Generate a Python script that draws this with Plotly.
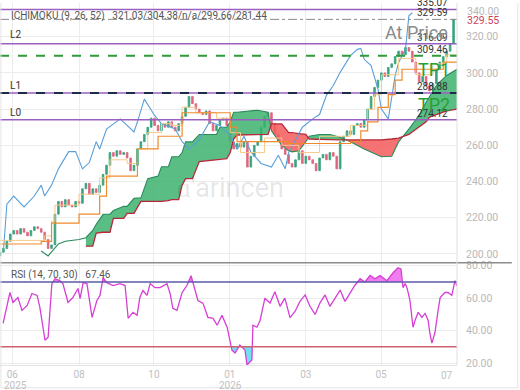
import plotly.graph_objects as go
from plotly.subplots import make_subplots

# ---------------- data (bar index = 2 trading days) ----------------
CLOSE = [201,203,207,211,213,211,214,212,210,213,
         215,214,212,208,203,205,222,229,226,230,
         227,226,229,228,236,239,233,236,234,238,
         244,249,256,254,257,255,256,253,246,249,
         258,262,266,270,275,271,268,272,270,273,
         270,268,272,276,281,287,283,280,278,277,
         279,272,268,271,274,275,271,262,258,261,
         259,262,248,254,260,262,270,276,278,272,
         266,262,258,255,250,248,252,257,250,254,
         252,250,246,253,255,252,256,254,247,262,
         265,268,266,271,272,270,274,280,287,292,
         296,300,298,303,305,309,312,310,314,312,
         306,300,295,298,293,290,294,302,306,309,
         312,316,329.55]
FIRST_OPEN = 199

TENKAN_X = [0,13,15,16,23,29,32,37,40,43,47,50,53,57,63,67,70,77,82,87,93,102,107,109,111,116,121,126,130,133]
TENKAN_Y = [207.5,210,218,227,233,242,252,250,258,267,272,271,281,278,275,267,256,264,260,256,265,271,280,288,299,308,299,305,310,310]

KIJUN_X = [0,12,15,23,29,31,40,46,53,67,69,84,102,105,107,110,113,115,117,129,133]
KIJUN_Y = [205.5,207,217,222,232,243,258,265,278,270,262,261,262,268,273,281,288,296,302,306,306]

CHIKOU_X = [1,2,4,7,10,12,13,15,17,20,22,24,26,28,29,31,35,37,39,40,42,45,47,51,53,55,58,61,64,67,69,71,73,76,79,81,83,84,86,88,91,93,95,97,99,102,104,105,106,108,110,111,113,114,115,116,118,119,120]
CHIKOU_Y = [201.6,227.5,232,226,232,238,232,238,247,256.5,256.5,247,250.5,262,258,269,274.6,271,267.4,273,285.5,276.5,272,269,262,258,263,273,271,265.5,258,265,256.4,250,248,254.5,247,256,263,270,274.6,277,287.6,293,300.3,309.5,313,313.5,307.5,304,291,280,274.6,287.6,298.5,305.7,313,331.5,333.2]

SPAN_A_EARLY_X = [12,14,17,19,23,25]
SPAN_A_EARLY_Y = [201.6,198.9,205.5,207,208,209]

CLOUD_X = [25,27,28,30,32,33,36,37,39,41,43,46,47,49,50,52,53,54,56,58,63,64,66,67,68,69,75,78,79,82,84,85,87,89,90,93,96,99,102,106,111,114,116,119,122,124,125,127,128,130,133]
SPAN_A = [209,213,216.4,221.9,222,224,226.3,226.3,230.7,231,241.6,243,248.2,248.2,253.7,253.7,256,261.9,261.9,266,266,270,270,273,278.3,278.3,279.4,278.3,268,260,257,256.4,257,262,265,266,266,264.5,262,258,253.7,254,261.9,269,276.7,283.8,287,293,295,298.6,302]
SPAN_B = [204.3,204.3,211.5,212,212,219.7,219.7,222.4,222.4,229,229,229,229,229.5,230,230,238,241.6,241.6,251,252,252.6,252.6,256,263.5,265.7,265.7,266,271.8,271.8,267,267,266.5,266,263.5,263.5,263.2,263,263,263,263,263.5,264,266,270,273,275.6,277,278,279,280]

RSI_X = [0.9,2.9,3.8,5.2,6.4,7.9,9.3,10.8,11.6,13.1,14.0,15.1,16.0,17.5,18.3,19.8,21.2,22.7,23.3,24.2,25.3,26.8,28.2,29.1,30.0,31.1,32.9,34.9,36.4,37.3,38.7,39.9,40.7,41.6,42.8,43.7,45.1,46.6,48.6,49.5,50.3,51.5,53.0,54.4,55.6,56.2,57.6,59.1,60.5,62.0,63.2,64.6,66.1,67.5,68.4,69.8,71.3,71.9,73.3,73.6,74.8,75.7,77.1,78.6,80.0,81.5,82.9,84.4,85.9,87.3,88.8,90.2,91.7,93.1,94.6,96.0,97.5,99.0,100.4,101.9,103.3,104.8,106.2,107.7,109.1,110.6,112.6,114.4,115.8,116.7,117.0,117.3,117.9,118.5,119.3,120.2,120.8,121.7,122.8,123.7,124.6,125.1,125.7,126.6,127.5,128.1,129.5,130.4,131.5,132.4,133.0]
RSI_Y = [44.5,63.5,57.4,60.4,52.5,55.5,62.9,61.7,54.3,34.1,36,69,72,70.8,69,57.4,60.4,66,59.8,69.6,69,48.2,58.6,61.7,72.7,69.6,67.8,69,67.8,47.6,51.3,49.4,60.4,64.7,61.7,69,66.5,66.5,69,62.9,53.7,52.5,63.5,67.8,73.9,69,58.6,56.8,48.2,47.6,43.3,49.4,42.1,28,26.2,31.1,28,18.8,21.9,43.3,42.1,46.4,60,57,64,55,60,48,52,58,62,55,50,57,62,55,60,65,58,63,68,72,70,74,72,73.9,70.8,75.7,78.8,78,69,66.5,69,66,58.6,42.1,46.4,51.3,48.2,50.6,46.4,38.4,32.3,39,52.5,60.4,63.5,63.5,61.7,70.8,67.46]

LEVELS_PURPLE = [335.07, 316.09, 288.88, 274.12]
LEVEL_TP1 = 309.46
LEVEL_L1 = 288.88
PRICE_LINE = 329.55
LEVEL_LABELS = [("335.07", 335.07), ("329.59", 329.55), ("316.09", 316.09),
                ("309.46", 309.46), ("288.88", 288.88), ("274.12", 274.12)]
X_TICKS = [3.6, 23, 44.8, 66.9, 89, 110.9]
X_TICKTEXT = ["06", "08", "10", "01", "03", "05"]

FONT = "Roboto"

# ---------------- helpers ----------------
OPEN = [FIRST_OPEN] + CLOSE[:-1]
HIGH = [max(o, c) for o, c in zip(OPEN, CLOSE)]
LOW = [min(o, c) for o, c in zip(OPEN, CLOSE)]
IDX = list(range(len(CLOSE)))


def split_cloud(xs, a, b):
    segs = []
    cur = {"x": [], "a": [], "b": [], "up": a[0] >= b[0]}
    for i in range(len(xs)):
        d = a[i] - b[i]
        if i > 0:
            dp = a[i - 1] - b[i - 1]
            if (dp >= 0) != (d >= 0):
                t = dp / (dp - d)
                xc = xs[i - 1] + t * (xs[i] - xs[i - 1])
                yc = a[i - 1] + t * (a[i] - a[i - 1])
                cur["x"].append(xc); cur["a"].append(yc); cur["b"].append(yc)
                segs.append(cur)
                cur = {"x": [xc], "a": [yc], "b": [yc], "up": d >= 0}
        cur["x"].append(xs[i]); cur["a"].append(a[i]); cur["b"].append(b[i])
    segs.append(cur)
    return segs


def band(xs, ys, level, above=True):
    ox, oy = [], []
    for i in range(len(xs)):
        if i > 0:
            d0 = ys[i - 1] - level
            d1 = ys[i] - level
            if (d0 > 0) != (d1 > 0) and d0 != d1:
                t = d0 / (d0 - d1)
                ox.append(xs[i - 1] + t * (xs[i] - xs[i - 1]))
                oy.append(level)
        ox.append(xs[i])
        oy.append(max(ys[i], level) if above else min(ys[i], level))
    return ox, oy


# ---------------- figure ----------------
fig = make_subplots(rows=2, cols=1, shared_xaxes=True, vertical_spacing=0,
                    row_heights=[0.7178, 0.2822])

# cloud
for s in split_cloud(CLOUD_X, SPAN_A, SPAN_B):
    fig.add_trace(go.Scatter(
        x=s["x"] + s["x"][::-1], y=s["a"] + s["b"][::-1], fill="toself",
        fillcolor="rgba(60,177,110,0.85)" if s["up"] else "rgba(244,90,90,0.85)",
        line=dict(width=0), mode="lines", hoverinfo="skip", showlegend=False), row=1, col=1)

fig.add_trace(go.Scatter(x=SPAN_A_EARLY_X + CLOUD_X, y=SPAN_A_EARLY_Y + SPAN_A, mode="lines",
                         line=dict(color="#2a8a5c", width=1.1), showlegend=False), row=1, col=1)
fig.add_trace(go.Scatter(x=CLOUD_X, y=SPAN_B, mode="lines",
                         line=dict(color="#b8283a", width=1.3), showlegend=False), row=1, col=1)

# chikou, tenkan, kijun
fig.add_trace(go.Scatter(x=CHIKOU_X, y=CHIKOU_Y, mode="lines",
                         line=dict(color="#5a9fd8", width=1.1), showlegend=False), row=1, col=1)
fig.add_trace(go.Scatter(x=TENKAN_X, y=TENKAN_Y, mode="lines", line_shape="hv",
                         line=dict(color="#f7c98a", width=1), showlegend=False), row=1, col=1)
fig.add_trace(go.Scatter(x=KIJUN_X, y=KIJUN_Y, mode="lines", line_shape="hv",
                         line=dict(color="#ef8a2c", width=1.2), showlegend=False), row=1, col=1)

# candles
fig.add_trace(go.Candlestick(
    x=IDX, open=OPEN, high=HIGH, low=LOW, close=CLOSE,
    increasing=dict(line=dict(color="#3aa37e", width=0.8), fillcolor="#3aa37e"),
    decreasing=dict(line=dict(color="#e0657f", width=0.8), fillcolor="#e0657f"),
    whiskerwidth=0, showlegend=False), row=1, col=1)

# RSI fills
bx, by = band(RSI_X, RSI_Y, 70, above=True)
fig.add_trace(go.Scatter(x=bx, y=[70] * len(bx), mode="lines", line=dict(width=0),
                         hoverinfo="skip", showlegend=False), row=2, col=1)
fig.add_trace(go.Scatter(x=bx, y=by, mode="lines", line=dict(width=0), fill="tonexty",
                         fillcolor="rgba(238,110,238,0.9)", hoverinfo="skip", showlegend=False), row=2, col=1)
cx, cy = band(RSI_X, RSI_Y, 30, above=False)
fig.add_trace(go.Scatter(x=cx, y=[30] * len(cx), mode="lines", line=dict(width=0),
                         hoverinfo="skip", showlegend=False), row=2, col=1)
fig.add_trace(go.Scatter(x=cx, y=cy, mode="lines", line=dict(width=0), fill="tonexty",
                         fillcolor="rgba(110,220,240,0.95)", hoverinfo="skip", showlegend=False), row=2, col=1)
fig.add_trace(go.Scatter(x=RSI_X, y=RSI_Y, mode="lines",
                         line=dict(color="#d63fd6", width=1.3), showlegend=False), row=2, col=1)

ann = []
for txt, lv in LEVEL_LABELS:
    ann.append(dict(text=txt, x=0.985, xref="paper", xanchor="right", y=lv, yref="y",
                    yanchor="bottom", yshift=-1, showarrow=False,
                    font=dict(size=10, color="#333", family=FONT)))
ann += [
    dict(text="At Price", x=0.985, xref="paper", xanchor="right", y=322.2, yref="y",
         showarrow=False, font=dict(size=18, color="#8a8a8a", family=FONT)),
    dict(text="TP1", x=0.988, xref="paper", xanchor="right", y=301.9, yref="y",
         showarrow=False, font=dict(size=18, color="#27a033", family=FONT)),
    dict(text="TP2", x=0.988, xref="paper", xanchor="right", y=282.7, yref="y",
         showarrow=False, font=dict(size=18, color="#27a033", family=FONT)),
    dict(text="L2", x=0.018, xref="paper", xanchor="left", y=321.1, yref="y",
         showarrow=False, font=dict(size=10, color="#333", family=FONT)),
    dict(text="L1", x=0.018, xref="paper", xanchor="left", y=293.3, yref="y",
         showarrow=False, font=dict(size=10, color="#333", family=FONT)),
    dict(text="L0", x=0.018, xref="paper", xanchor="left", y=278.4, yref="y",
         showarrow=False, font=dict(size=10, color="#333", family=FONT)),
    dict(text="ICHIMOKU (9, 26, 52)   321.03/304.38/n/a/299.66/281.44", x=0.02, xref="paper",
         xanchor="left", y=331.5, yref="y", showarrow=False,
         font=dict(size=10, color="#555", family=FONT)),
    dict(text="RSI (14, 70, 30)   67.46", x=0.02, xref="paper", xanchor="left", y=74.5, yref="y2",
         showarrow=False, font=dict(size=10, color="#555", family=FONT)),
    dict(text="340.00", x=1, xref="paper", xanchor="left", xshift=8, y=1, yref="paper",
         yanchor="top", yshift=0, showarrow=False,
         font=dict(size=10.5, color="#b8b8b8", family=FONT)),
    dict(text="329.55", x=1, xref="paper", xanchor="left", xshift=8, y=329.2, yref="y",
         showarrow=False, font=dict(size=10.5, color="#d0405a", family=FONT)),
    dict(text="07", x=130.1, xref="x2", y=0, yref="paper", yanchor="top", yshift=-3,
         showarrow=False, font=dict(size=10, color="#c0c0c0", family=FONT)),
    dict(text="2025", x=4.4, xref="x2", y=0, yref="paper", yanchor="top", yshift=-13,
         showarrow=False, font=dict(size=10, color="#c0c0c0", family=FONT)),
    dict(text="2026", x=67.1, xref="x2", y=0, yref="paper", yanchor="top", yshift=-13,
         showarrow=False, font=dict(size=10, color="#c0c0c0", family=FONT)),
    dict(text="ɑ'arincen", x=0.505, xref="paper", y=0.488, yref="paper",
         showarrow=False, font=dict(size=27, color="rgba(0,0,0,0.11)", family=FONT)),
]

fig.update_layout(
    width=520, height=390, margin=dict(l=0, r=63, t=0, b=25),
    paper_bgcolor="white", plot_bgcolor="white", showlegend=False,
    font=dict(family=FONT), annotations=ann,
)

# RSI bands
fig.add_hline(y=70, line=dict(color="#5a5aa8", width=1.5), row=2, col=1)
fig.add_hline(y=30, line=dict(color="#cf6070", width=1.5), row=2, col=1)

# level lines
for lv in LEVELS_PURPLE:
    fig.add_hline(y=lv, line=dict(color="#9b5fc0", width=1.5), row=1, col=1)
fig.add_hline(y=LEVEL_L1, line=dict(color="#1e2b45", width=2, dash="dash"), row=1, col=1)
fig.add_hline(y=LEVEL_TP1, line=dict(color="#2e9a3a", width=2, dash="dash"), row=1, col=1)
fig.add_hline(y=PRICE_LINE, line=dict(color="#8a8a8a", width=1, dash="dashdot"), row=1, col=1)

# frame pieces
fig.add_shape(type="line", xref="paper", yref="paper", x0=0, x1=1.12, y0=0.2822, y1=0.2822,
              line=dict(color="#8c8c8c", width=1.5), layer="above")
fig.add_shape(type="line", xref="paper", yref="paper", x0=1, x1=1, y0=0, y1=1,
              line=dict(color="#e0e0e0", width=1), layer="above")
fig.add_shape(type="path", xref="paper", yref="paper",
              path="M 0.002 1 L 0.002 -0.063 L 1.133 -0.063 L 1.133 1",
              line=dict(color="#e4e4e4", width=1))

fig.update_xaxes(range=[0, 133], showgrid=True, gridcolor="#ececec", zeroline=False,
                 tickvals=X_TICKS, ticktext=X_TICKTEXT, ticks="",
                 tickfont=dict(size=10, color="#c0c0c0", family=FONT),
                 rangeslider_visible=False, showline=False)
fig.update_xaxes(showline=True, linecolor="#e4e4e4", row=2, col=1)
fig.update_yaxes(side="right", showgrid=True, gridcolor="#ececec", zeroline=False, ticks="",
                 tickformat=".2f", tickfont=dict(size=10.5, color="#b8b8b8", family=FONT),
                 ticklabelstandoff=8)
fig.update_yaxes(range=[195.1, 338.6], tickvals=[200, 220, 240, 260, 280, 300, 320], row=1, col=1)
fig.update_yaxes(range=[18.8, 81.8], tickvals=[20, 40, 60, 80], row=2, col=1)

fig.write_html("out.html")
